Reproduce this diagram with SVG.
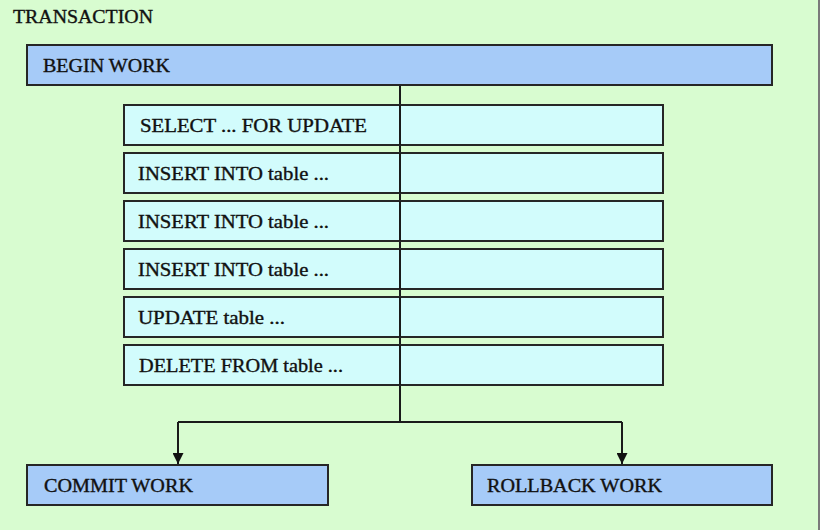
<svg xmlns="http://www.w3.org/2000/svg" width="820" height="530" viewBox="0 0 820 530">
<defs>
<style>
.bg{fill:#D8FCD0}
.blue{fill:#A6CBF8;stroke:#262626;stroke-width:2}
.cyan{fill:#D2FCFC;stroke:#262626;stroke-width:2}
.t{font-family:"Liberation Serif","Times New Roman",serif;font-size:18px;fill:#111;stroke:#111;stroke-width:0.35}
.c{fill:none;stroke:#1a1a1a;stroke-width:2}
</style>
<marker id="arr" viewBox="0 0 10 10" refX="10" refY="5" markerWidth="5.5" markerHeight="5.5" orient="auto" markerUnits="strokeWidth">
<path d="M0,0 L10,5 L0,10 z" fill="#111"/>
</marker>
</defs>
<rect class="bg" x="0" y="0" width="820" height="530"/>
<line x1="819" y1="0" x2="819" y2="530" stroke="#7a7a7a" stroke-width="2"/>
<text class="t" x="13" y="23" textLength="140" lengthAdjust="spacingAndGlyphs">TRANSACTION</text>
<g id="connectors">
<path class="c" d="M400,85 V422"/>
<path class="c" d="M178,422 H622"/>
<path class="c" d="M178,422 V464" marker-end="url(#arr)"/>
<path class="c" d="M622,422 V464" marker-end="url(#arr)"/>
</g>
<g id="begin"><rect class="blue" x="27" y="45" width="745" height="40"/><text class="t" x="43" y="72" textLength="127" lengthAdjust="spacingAndGlyphs">BEGIN WORK</text></g>
<g id="s1"><rect class="cyan" x="124" y="105" width="539" height="40"/><line x1="400" y1="105" x2="400" y2="145" stroke="#1a1a1a" stroke-width="2"/><text class="t" x="140" y="132" textLength="227" lengthAdjust="spacingAndGlyphs">SELECT ... FOR UPDATE</text></g>
<g id="s2"><rect class="cyan" x="124" y="153" width="539" height="40"/><line x1="400" y1="153" x2="400" y2="193" stroke="#1a1a1a" stroke-width="2"/><text class="t" x="138" y="180" textLength="191" lengthAdjust="spacingAndGlyphs">INSERT INTO table ...</text></g>
<g id="s3"><rect class="cyan" x="124" y="201" width="539" height="40"/><line x1="400" y1="201" x2="400" y2="241" stroke="#1a1a1a" stroke-width="2"/><text class="t" x="138" y="228" textLength="191" lengthAdjust="spacingAndGlyphs">INSERT INTO table ...</text></g>
<g id="s4"><rect class="cyan" x="124" y="249" width="539" height="40"/><line x1="400" y1="249" x2="400" y2="289" stroke="#1a1a1a" stroke-width="2"/><text class="t" x="138" y="276" textLength="191" lengthAdjust="spacingAndGlyphs">INSERT INTO table ...</text></g>
<g id="s5"><rect class="cyan" x="124" y="297" width="539" height="40"/><line x1="400" y1="297" x2="400" y2="337" stroke="#1a1a1a" stroke-width="2"/><text class="t" x="138" y="324" textLength="147" lengthAdjust="spacingAndGlyphs">UPDATE table ...</text></g>
<g id="s6"><rect class="cyan" x="124" y="345" width="539" height="40"/><line x1="400" y1="345" x2="400" y2="385" stroke="#1a1a1a" stroke-width="2"/><text class="t" x="139" y="372" textLength="204" lengthAdjust="spacingAndGlyphs">DELETE FROM table ...</text></g>
<g id="commit"><rect class="blue" x="27" y="465" width="301" height="40"/><text class="t" x="44" y="492" textLength="149" lengthAdjust="spacingAndGlyphs">COMMIT WORK</text></g>
<g id="rollback"><rect class="blue" x="472" y="465" width="300" height="40"/><text class="t" x="487" y="492" textLength="175" lengthAdjust="spacingAndGlyphs">ROLLBACK WORK</text></g>
</svg>
